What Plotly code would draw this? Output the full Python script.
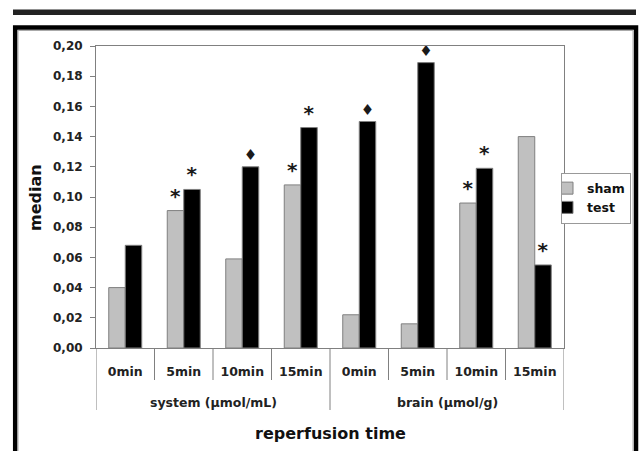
import plotly.graph_objects as go

groups = ["system (µmol/mL)"] * 4 + ["brain (µmol/g)"] * 4
times = ["0min", "5min", "10min", "15min", "0min", "5min", "10min", "15min"]
sham = [0.040, 0.091, 0.059, 0.108, 0.022, 0.016, 0.096, 0.140]
test = [0.068, 0.105, 0.120, 0.146, 0.150, 0.189, 0.119, 0.055]
sham_marks = ["", "*", "", "*", "", "", "*", ""]
test_marks = ["", "*", "♦", "*", "♦", "♦", "*", "*"]
y_ticks = [0.00, 0.02, 0.04, 0.06, 0.08, 0.10, 0.12, 0.14, 0.16, 0.18, 0.20]

W, H = 642, 451
L, R, T, B = 96, 564, 46, 348

def px(x):
    return (x - L) / (R - L)

def py(y):
    return (B - y) / (B - T)

def mark_sizes(marks):
    return [20 if m == "*" else 15 for m in marks]

FONT = "DejaVu Sans, sans-serif"
xpos = list(range(len(times)))

fig = go.Figure()
fig.add_trace(go.Bar(
    name="sham", x=xpos, y=sham,
    marker=dict(color="#c0c0c0", line=dict(color="#7f7f7f", width=1)),
    text=sham_marks, textposition="outside", constraintext="none", cliponaxis=False,
    textfont=dict(size=mark_sizes(sham_marks), color="#1a1a1a", family=FONT, weight="bold"),
))
fig.add_trace(go.Bar(
    name="test", x=xpos, y=test,
    marker=dict(color="#000000", line=dict(color="#7f7f7f", width=1)),
    text=test_marks, textposition="outside", constraintext="none", cliponaxis=False,
    textfont=dict(size=mark_sizes(test_marks), color="#1a1a1a", family=FONT, weight="bold"),
))

shapes = [
    dict(type="rect", xref="paper", yref="paper", x0=px(13), x1=px(636), y0=py(9.5), y1=py(15),
         fillcolor="#222", line=dict(width=0), layer="below"),
    dict(type="rect", xref="paper", yref="paper", x0=px(15.2), x1=px(636), y0=py(27.5), y1=py(480),
         fillcolor="rgba(0,0,0,0)", line=dict(color="#000", width=4.5), layer="below"),
    dict(type="rect", xref="paper", yref="paper", x0=px(18), x1=px(633), y0=py(30.5), y1=py(480),
         fillcolor="rgba(0,0,0,0)", line=dict(color="#aaa", width=1), layer="below"),
]

# category dividers below the axis, derived from category indices
for i in range(len(times) + 1):
    is_group_edge = i == 0 or i == len(times) or groups[i] != groups[i - 1]
    shapes.append(dict(
        type="line", xref="x", yref="paper", x0=i - 0.5, x1=i - 0.5,
        y0=0, y1=py(410 if is_group_edge else 380),
        line=dict(color="#808080", width=1),
    ))

annotations = []
seen = []
for g in groups:
    if g not in seen:
        seen.append(g)
for g in seen:
    idx = [i for i, gg in enumerate(groups) if gg == g]
    annotations.append(dict(
        text=g, xref="x", yref="paper", x=sum(idx) / len(idx), y=py(402),
        xanchor="center", yanchor="middle", showarrow=False,
        font=dict(size=12.5, family=FONT, weight="bold", color="#222"),
    ))
annotations.append(dict(
    text="reperfusion time", xref="paper", yref="paper", x=0.5, y=py(433),
    xanchor="center", yanchor="middle", showarrow=False,
    font=dict(size=16, family=FONT, weight="bold", color="#111"),
))
annotations.append(dict(
    text="median", xref="paper", yref="paper", x=px(35), y=0.5, textangle=-90,
    xanchor="center", yanchor="middle", showarrow=False,
    font=dict(size=16, family=FONT, weight="bold", color="#111"),
))

fig.update_layout(
    width=W, height=H,
    margin=dict(l=L, r=W - R, t=T, b=H - B, autoexpand=False),
    paper_bgcolor="white", plot_bgcolor="white",
    separators=",.",
    barmode="group", bargap=0.436, bargroupgap=0,
    font=dict(family=FONT, color="#222"),
    showlegend=True,
    legend=dict(x=px(631), y=py(198), xanchor="right", yanchor="middle",
                bgcolor="white", bordercolor="#999", borderwidth=1,
                font=dict(size=12.5, family=FONT, weight="bold", color="#111"),
                itemwidth=30, tracegroupgap=0, indentation=-15),
    shapes=shapes,
    annotations=annotations,
    xaxis=dict(
        range=[-0.5, len(times) - 0.5], tickvals=xpos, ticktext=times,
        showline=True, linecolor="#808080", linewidth=1, mirror=True,
        ticks="", ticklabelstandoff=12, automargin=False,
        tickfont=dict(size=12.5, family=FONT, weight="bold", color="#222"),
        showgrid=False, zeroline=False,
    ),
    yaxis=dict(
        range=[0, 0.20], tickvals=y_ticks, tickformat=".2f",
        showline=True, linecolor="#808080", linewidth=1, mirror=True,
        ticks="outside", ticklen=5, tickcolor="#808080", ticklabelstandoff=5, automargin=False,
        showgrid=False, zeroline=False,
        tickfont=dict(size=12, family=FONT, weight="bold", color="#222"),
    ),
)

fig.write_html("out.html", config={"displayModeBar": False},
               post_script="document.body.style.margin='0';document.body.style.padding='0';")
